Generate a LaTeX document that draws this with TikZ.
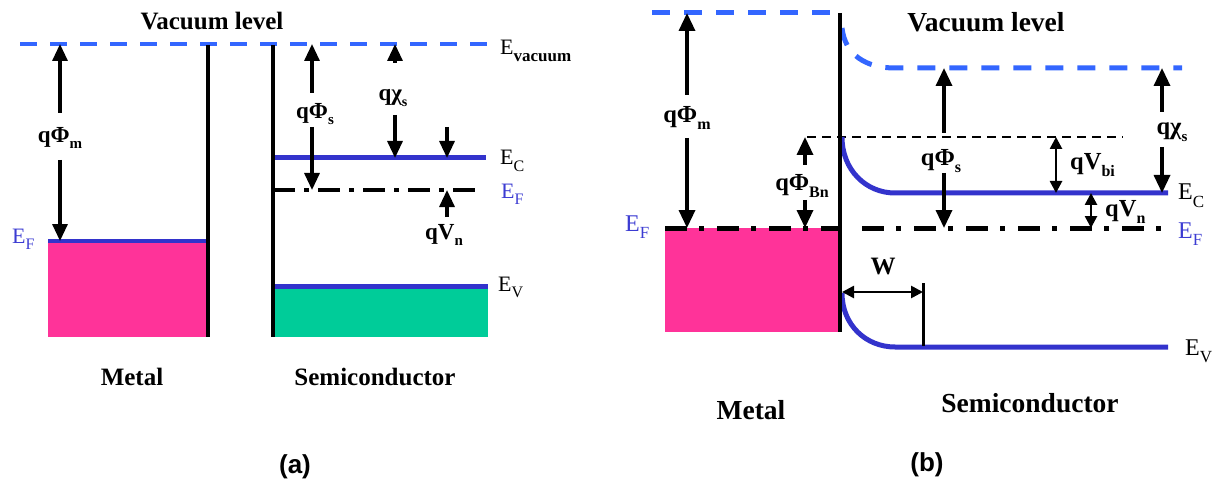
\documentclass[tikz,border=0pt]{standalone}
\usepackage{fontspec}
\setmainfont{Liberation Serif}
\newfontfamily\sansfnt{Liberation Sans}
\usetikzlibrary{arrows.meta}
\definecolor{vac}{HTML}{3366FF}
\definecolor{band}{HTML}{3333CC}
\definecolor{eflab}{HTML}{3C3CD2}
\definecolor{metalpink}{HTML}{FF3399}
\definecolor{semigreen}{HTML}{00CC99}
\newcommand\fs[1]{\fontsize{#1}{#1}\selectfont}
\newcommand\lo[2]{\raisebox{-0.3em}{\fs{#1}#2}}
\begin{document}
\begin{tikzpicture}[x=1pt,y=-1pt,
  every node/.style={inner sep=0pt},
  vacline/.style={vac, line width=4pt, dash pattern=on 17pt off 13pt},
  vaclineb/.style={vac, line width=5pt, dash pattern=on 18pt off 14pt},
  iface/.style={line width=3.5pt},
  bandline/.style={band, line width=5pt},
  fermia/.style={line width=4pt, dash pattern=on 22pt off 9pt on 5pt off 9pt},
  fermib/.style={line width=5pt, dash pattern=on 22pt off 12pt on 5pt off 13pt},
  thindash/.style={line width=1.8pt, dash pattern=on 9pt off 6pt},
  arra/.style={line width=3.2pt, -{Triangle[length=17pt,width=15pt]}},
  arrb/.style={line width=3.4pt, -{Triangle[length=18pt,width=16pt]}},
  darr/.style={line width=2.6pt, {Triangle[length=12pt,width=12pt]}-{Triangle[length=12pt,width=12pt]}},
  qa/.style={font=\fs{23}\bfseries},
  qb/.style={font=\fs{24.5}\bfseries},
  ea/.style={anchor=base west, font=\fs{22}},
  eb/.style={anchor=base west, font=\fs{24}},
  titlea/.style={font=\fs{25}\bfseries},
  titleb/.style={font=\fs{27.5}\bfseries},
  caption/.style={font=\sansfnt\fs{26}\bfseries},
]
\useasboundingbox (0,0) rectangle (1220,481);

%% ================= panel (a) =================
\fill[metalpink] (48,241) rectangle (208,337);
\fill[semigreen] (273,286) rectangle (488,337);
\draw[vacline] (20,44) -- (488,44);
\draw[band, line width=4.5pt] (48,241) -- (208,241);
\draw[bandline] (273,286) -- (488,286);
\draw[bandline] (273,158) -- (486,158);
\draw[fermia] (273,190) -- (480,190);
\draw[iface] (208,45) -- (208,337);
\draw[iface] (273,45) -- (273,337);

\node[titlea] (avac) at (212,21) {Vacuum level};
\node[titlea] (ametal) at (132,377) {Metal};
\node[titlea] (asemi) at (375,377) {Semiconductor};
\node[caption] (acap) at (295,467) {(a)};

\node[ea] (aevac) at (500,55) {E\lo{17}{\bfseries vacuum}};
\node[ea] (aec) at (500,165) {E\lo{16}{C}};
\node[ea, text=eflab] (aefr) at (501,198) {E\lo{16}{F}};
\node[ea] (aev) at (498,291) {E\lo{16}{V}};
\node[ea, text=eflab] (aefl) at (12,243) {E\lo{16}{F}};

% q Phi_m
\coordinate (am1) at (60,44); \coordinate (am2) at (60,113);
\coordinate (am3) at (60,160); \coordinate (am4) at (60,241);
\draw[arra] (am2) -- (am1); \draw[arra] (am3) -- (am4);
\node[qa] (aqpm) at (60,138) {qΦ\lo{15}{m}};
% q Phi_s
\coordinate (as1) at (312,44); \coordinate (as2) at (312,93);
\coordinate (as3) at (312,127); \coordinate (as4) at (312,190);
\draw[arra] (as2) -- (as1); \draw[arra] (as3) -- (as4);
\node[qa] (aqps) at (315,114) {qΦ\lo{15}{s}};
% q chi_s
\coordinate (ac1) at (395,44); \coordinate (ac2) at (395,63);
\coordinate (ac3) at (395,115); \coordinate (ac4) at (395,158);
\draw[arra] (ac2) -- (ac1); \draw[arra] (ac3) -- (ac4);
\node[qa] (aqcs) at (393,98) {qχ\lo{14}{s}};
% q V_n
\coordinate (an1) at (447,127); \coordinate (an2) at (447,158);
\coordinate (an3) at (447,217); \coordinate (an4) at (447,190);
\draw[arra] (an1) -- (an2); \draw[arra] (an3) -- (an4);
\node[qa] (aqvn) at (444,235) {qV\lo{15}{n}};

%% ================= panel (b) =================
\fill[metalpink] (665,228) rectangle (840,332);
\draw[vaclineb] (652,13) -- (832,13);
\draw[vaclineb] (842,28) .. controls (845,55) and (866,68) .. (895,68) -- (1182,68);
\draw[thindash] (807,137) -- (1123,137);
\draw[bandline] (842,137) .. controls (842,170) and (866,193) .. (895,193) -- (1168,193);
\draw[bandline] (842,293) .. controls (842,325) and (866,347) .. (895,347) -- (1168,347);
\draw[fermib] (665,228) -- (838,228);
\draw[fermib, dash phase=-12pt] (850,228) -- (1165,228);
\draw[line width=4pt] (840,13) -- (840,332);

\node[titleb] (bvac) at (986,22) {Vacuum level};
\node[titleb] (bmetal) at (751,410) {Metal};
\node[titleb] (bsemi) at (1030,403) {Semiconductor};
\node[caption] (bcap) at (927,465) {(b)};

\node[eb, text=eflab] (befl) at (625,231) {E\lo{17}{F}};
\node[eb] (bec) at (1178,200) {E\lo{17}{C}};
\node[eb, text=eflab] (befr) at (1178,238) {E\lo{17}{F}};
\node[eb] (bev) at (1185,355) {E\lo{17}{V}};

% q Phi_m
\coordinate (bm1) at (687,13); \coordinate (bm2) at (687,95);
\coordinate (bm3) at (687,138); \coordinate (bm4) at (687,228);
\draw[arrb] (bm2) -- (bm1); \draw[arrb] (bm3) -- (bm4);
\node[qb] (bqpm) at (687,118) {qΦ\lo{16}{m}};
% q Phi_Bn
\coordinate (bb1) at (805,137); \coordinate (bb2) at (805,165);
\coordinate (bb3) at (805,200); \coordinate (bb4) at (805,228);
\draw[arrb] (bb2) -- (bb1); \draw[arrb] (bb3) -- (bb4);
\node[qb] (bqpb) at (802,186) {qΦ\lo{16}{Bn}};
% q Phi_s
\coordinate (bs1) at (944,68); \coordinate (bs2) at (944,133);
\coordinate (bs3) at (944,173); \coordinate (bs4) at (944,228);
\draw[arrb] (bs2) -- (bs1); \draw[arrb] (bs3) -- (bs4);
\node[qb] (bqps) at (941,161) {qΦ\lo{16}{s}};
% q chi_s
\coordinate (bc1) at (1162,68); \coordinate (bc2) at (1162,112);
\coordinate (bc3) at (1162,147); \coordinate (bc4) at (1162,193);
\draw[arrb] (bc2) -- (bc1); \draw[arrb] (bc3) -- (bc4);
\node[qb] (bqcs) at (1172,132) {qχ\lo{15}{s}};
% q V_bi
\coordinate (bv1) at (1056,137); \coordinate (bv2) at (1056,193);
\draw[darr] (bv1) -- (bv2);
\node[qb, anchor=west] (bqvbi) at (1070,165) {qV\lo{16}{bi}};
% q V_n
\coordinate (bn1) at (1091,193); \coordinate (bn2) at (1091,228);
\draw[darr] (bn1) -- (bn2);
\node[qb, anchor=west] (bqvn) at (1105,212) {qV\lo{16}{n}};
% W
\coordinate (bw1) at (842,292); \coordinate (bw2) at (923,292);
\coordinate (bw3) at (923,283); \coordinate (bw4) at (923,346);
\draw[darr] (bw1) -- (bw2);
\draw[line width=3pt] (bw3) -- (bw4);
\node[qb, font=\fs{25}\bfseries] (bw) at (883,267) {W};
\end{tikzpicture}
\end{document}
